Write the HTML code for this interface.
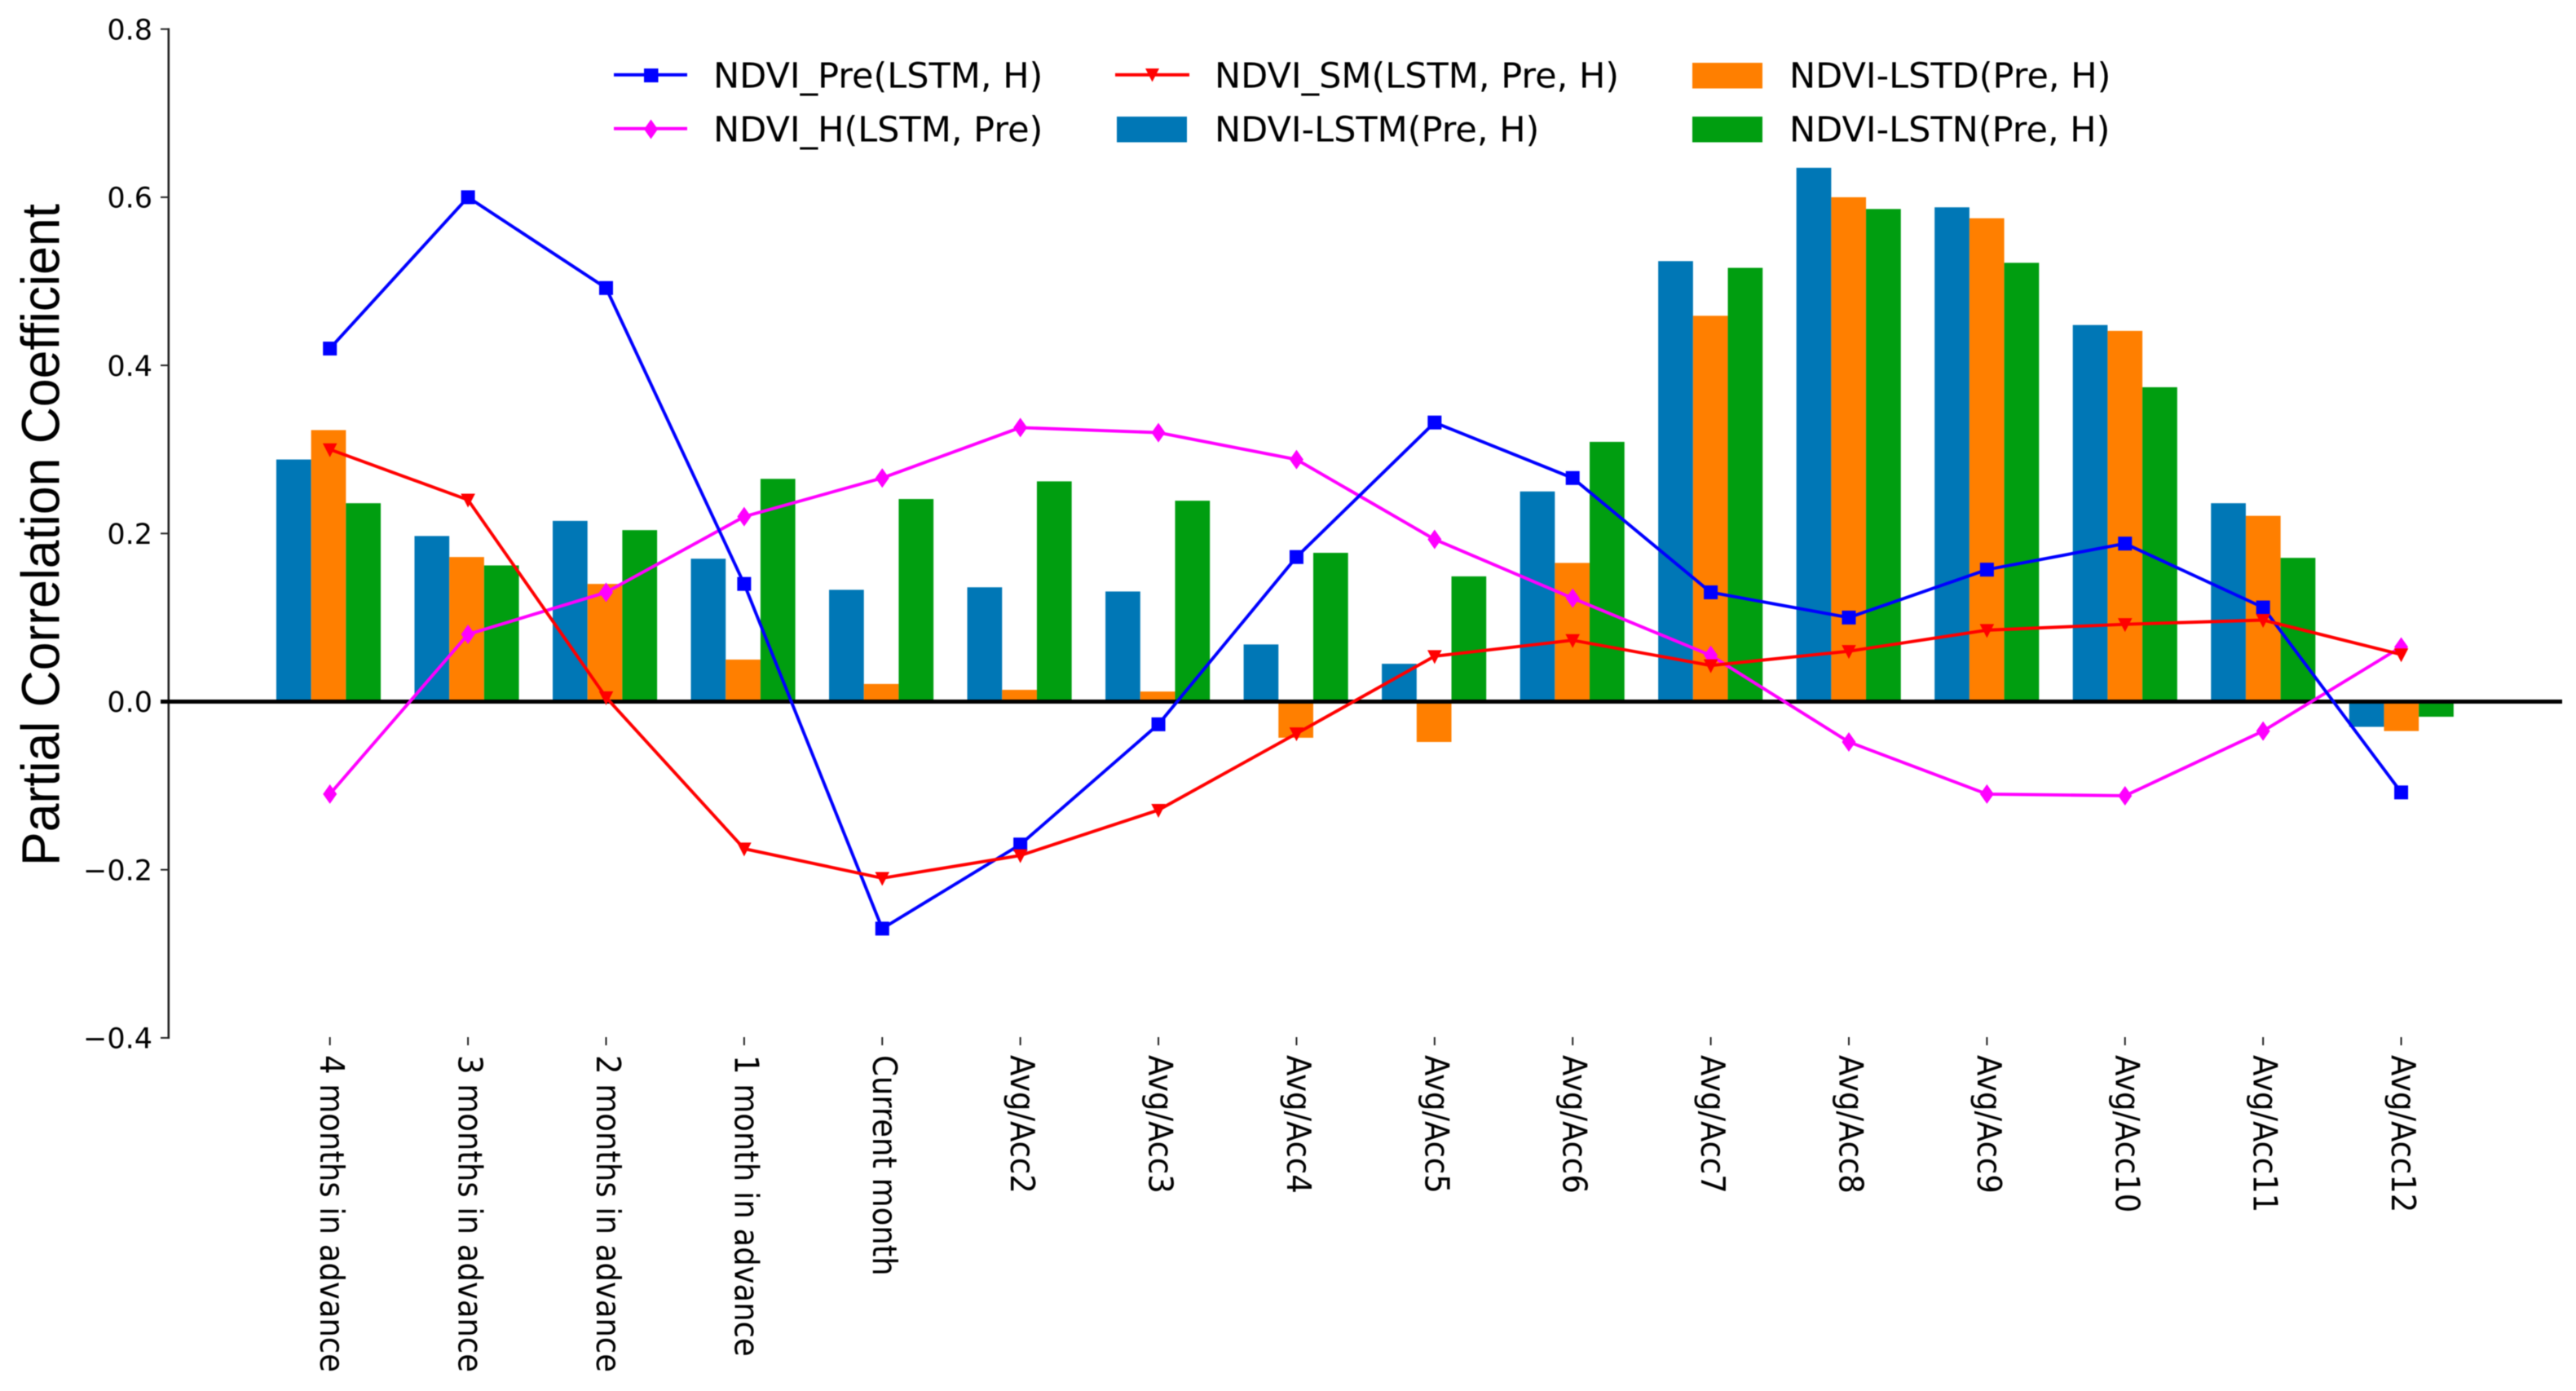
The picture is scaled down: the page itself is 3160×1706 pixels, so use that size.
<!DOCTYPE html>
<html lang="en">
<head>
<meta charset="utf-8">
<title>Partial Correlation Coefficient Chart</title>
<style>
html,body{margin:0;padding:0;background:#fff;width:3160px;height:1706px;overflow:hidden}
svg{display:block;filter:blur(0.6px);background:#fff}
text{font-family:"DejaVu Sans",sans-serif;fill:#000}
</style>
</head>
<body>
<svg id="chart" xmlns="http://www.w3.org/2000/svg" width="3160" height="1706" viewBox="0 0 3160 1706">
  <g id="bars"></g>
  <line x1="206.8" y1="34.5" x2="206.8" y2="1274" stroke="#222" stroke-width="2.6"/>
  <g id="yticks"></g>
  <g id="xticks"></g>
  <line id="zero" x1="197" x2="3143" stroke="#000" stroke-width="5"/>
  <g id="lines"></g>
  <text transform="translate(72.5,1062) rotate(-90)" font-size="66" textLength="812" lengthAdjust="spacingAndGlyphs" style="font-family:'Liberation Sans',sans-serif">Partial Correlation Coefficient</text>
  <g id="legend">
    <g>
      <line x1="753" y1="91.7" x2="843" y2="91.7" stroke="#0000ff" stroke-width="4"/>
      <rect x="790" y="84" width="17.5" height="17" fill="#0000ff"/>
      <text x="875" y="107.3" font-size="43">NDVI_Pre(LSTM, H)</text>
    </g>
    <g>
      <line x1="753" y1="157.7" x2="843" y2="157.7" stroke="#ff00ff" stroke-width="4"/>
      <polygon points="798.5,146.5 807,158.5 798.5,170.5 790,158.5" fill="#ff00ff"/>
      <text x="875" y="173.4" font-size="43">NDVI_H(LSTM, Pre)</text>
    </g>
    <g>
      <line x1="1368" y1="91.7" x2="1459" y2="91.7" stroke="#ff0000" stroke-width="4"/>
      <polygon points="1405,84 1422,84 1413.5,100.5" fill="#ff0000"/>
      <text x="1490" y="107.3" font-size="43">NDVI_SM(LSTM, Pre, H)</text>
    </g>
    <g>
      <rect x="1370" y="143" width="86" height="31.5" fill="#0077b6"/>
      <text x="1490" y="173.4" font-size="43">NDVI-LSTM(Pre, H)</text>
    </g>
    <g>
      <rect x="2076" y="77" width="86" height="31.5" fill="#ff7f00"/>
      <text x="2195" y="107.3" font-size="43">NDVI-LSTD(Pre, H)</text>
    </g>
    <g>
      <rect x="2076" y="143" width="86" height="31.5" fill="#009e10"/>
      <text x="2195" y="173.4" font-size="43">NDVI-LSTN(Pre, H)</text>
    </g>
  </g>
</svg>
<script>
const categories = ["4 months in advance","3 months in advance","2 months in advance","1 month in advance","Current month","Avg/Acc2","Avg/Acc3","Avg/Acc4","Avg/Acc5","Avg/Acc6","Avg/Acc7","Avg/Acc8","Avg/Acc9","Avg/Acc10","Avg/Acc11","Avg/Acc12"];
const yTickValues = [0.8,0.6,0.4,0.2,0,-0.2,-0.4];
const yTickLabels = ["0.8","0.6","0.4","0.2","0.0","\u22120.2","\u22120.4"];
const ndviPre = [0.42,0.60,0.492,0.14,-0.27,-0.17,-0.027,0.172,0.332,0.266,0.13,0.10,0.157,0.188,0.112,-0.108];
const ndviSm = [0.30,0.24,0.005,-0.175,-0.21,-0.183,-0.129,-0.038,0.054,0.073,0.043,0.06,0.085,0.092,0.097,0.056];
const ndviH = [-0.11,0.08,0.13,0.22,0.266,0.326,0.32,0.288,0.193,0.123,0.055,-0.048,-0.11,-0.112,-0.035,0.065];
const ndviLstm = [0.288,0.197,0.215,0.17,0.133,0.136,0.131,0.068,0.045,0.25,0.524,0.635,0.588,0.448,0.236,-0.03];
const ndviLstd = [0.323,0.172,0.14,0.05,0.021,0.014,0.012,-0.043,-0.048,0.165,0.459,0.60,0.575,0.441,0.221,-0.035];
const ndviLstn = [0.236,0.162,0.204,0.265,0.241,0.262,0.239,0.177,0.149,0.309,0.516,0.586,0.522,0.374,0.171,-0.018];

const NS = "http://www.w3.org/2000/svg";
function xScale(i){ return 404.7 + 169.39 * i; }
function barCenter(i){ return 403 + 169.52 * i; }
function yScale(v){ return 860.5 - 1031 * v; }
function make(tag, attrs, parent){
  const el = document.createElementNS(NS, tag);
  for (const k in attrs) el.setAttribute(k, attrs[k]);
  parent.appendChild(el);
  return el;
}
const zeroLine = document.getElementById('zero');
zeroLine.setAttribute('y1', yScale(0));
zeroLine.setAttribute('y2', yScale(0));

const barWidth = 42.7;
const barLayer = document.getElementById('bars');
function drawBars(values, offset, color, name){
  values.forEach(function(v, i){
    const y0 = yScale(0), y1 = yScale(v);
    const el = make('rect', {x: barCenter(i) + offset * barWidth - barWidth / 2, y: Math.min(y0, y1), width: barWidth, height: Math.abs(y1 - y0), fill: color}, barLayer);
    
    
    el.setAttribute('data-series', name);
  });
}
drawBars(ndviLstm, -1, '#0077b6', 'ndvi-lstm');
drawBars(ndviLstd, 0, '#ff7f00', 'ndvi-lstd');
drawBars(ndviLstn, 1, '#009e10', 'ndvi-lstn');

const yTickLayer = document.getElementById('yticks');
yTickValues.forEach(function(v, i){
  const tick = make('line', {x1: 197, x2: 207, y1: yScale(v), y2: yScale(v), stroke: '#222', 'stroke-width': 2}, yTickLayer);
  
  
  const label = make('text', {x: 187, y: yScale(v) + 12.7, 'font-size': 35, 'text-anchor': 'end'}, yTickLayer);
  
  
  label.textContent = yTickLabels[i];
});

const xTickLayer = document.getElementById('xticks');
categories.forEach(function(c, i){
  const tick = make('line', {x1: xScale(i), x2: xScale(i), y1: 1272, y2: 1282, stroke: '#222', 'stroke-width': 2}, xTickLayer);
  
  
  const label = make('text', {transform: 'translate(' + (xScale(i) - 11.5) + ',1294) rotate(90) scale(1,1.1)', 'font-size': 37}, xTickLayer);
  
  
  label.textContent = c;
});

const lineLayer = document.getElementById('lines');
function drawMarker(kind, x, y, color, group){
  let el;
  if (kind === 'square') {
    el = make('rect', {x: x - 8.5, y: y - 8.5, width: 17, height: 17, fill: color}, group);
  } else if (kind === 'diamond') {
    el = make('polygon', {points: [x, y - 12, x + 8.5, y, x, y + 12, x - 8.5, y].join(' '), fill: color}, group);
  } else {
    el = make('polygon', {points: [x - 8.8, y - 7.5, x + 8.8, y - 7.5, x, y + 9.5].join(' '), fill: color}, group);
  }
  
  
}
function drawLine(values, color, kind, name){
  const group = make('g', {}, lineLayer);
  
  
  const pts = values.map(function(v, i){ return xScale(i) + ',' + yScale(v); }).join(' ');
  const poly = make('polyline', {points: pts, fill: 'none', stroke: color, 'stroke-width': 3.9, 'stroke-linejoin': 'round'}, group);
  
  
  values.forEach(function(v, i){ drawMarker(kind, xScale(i), yScale(v), color, group); });
}
drawLine(ndviH, '#ff00ff', 'diamond', 'ndvi-h-line');
drawLine(ndviPre, '#0000ff', 'square', 'ndvi-pre-line');
drawLine(ndviSm, '#ff0000', 'triangle', 'ndvi-sm-line');
</script>
</body>
</html>
